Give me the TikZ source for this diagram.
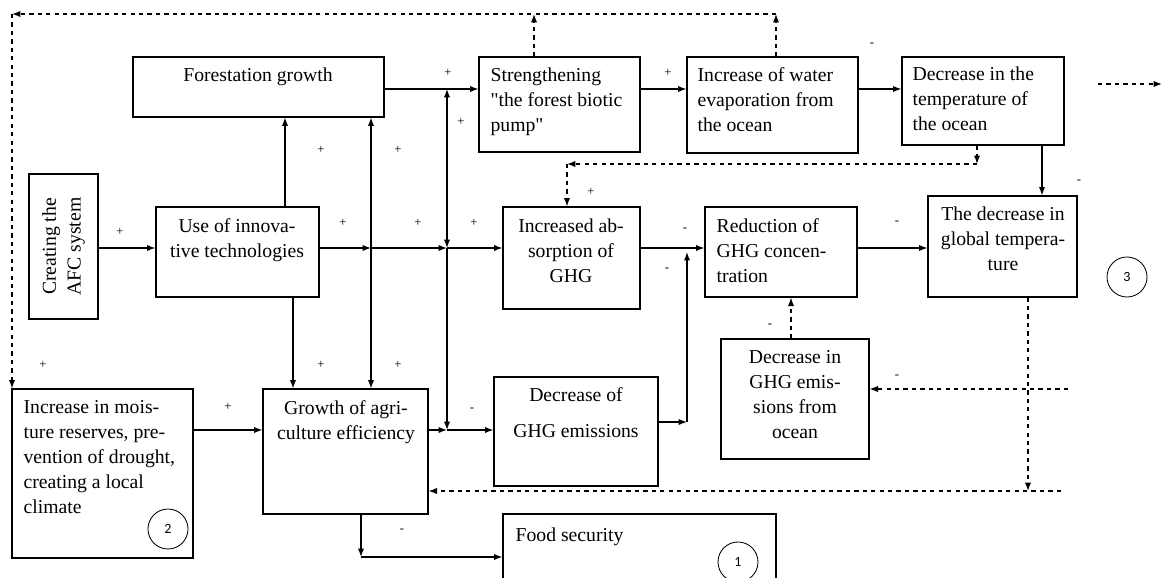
\documentclass[tikz,border=0pt]{standalone}
\usepackage{fontspec}
\setmainfont{Liberation Serif}
\newfontfamily\qfont{Liberation Serif}
\newfontfamily\numfont{Carlito}
\newcommand{\qq}{{\qfont"}}
\usepackage{tikz}
\usetikzlibrary{fit,calc,arrows.meta}
\tikzset{every picture/.style={>={Latex[length=6pt,width=4.5pt]}},
  sign/.style={font=\fontsize{9}{10}\selectfont,inner sep=0pt},
  box/.style={draw,line width=0.8pt,inner sep=0pt,fit={#1}},
  txt/.style={font=\fontsize{14}{17.7}\selectfont,inner sep=0pt},
  num/.style={draw,circle,line width=0.6pt,minimum size=1cm,inner sep=0pt,font=\numfont\fontsize{10}{12}\selectfont},
  fb/.style={dashed,line width=0.9pt}}

\begin{document}
\begin{tikzpicture}[x=0.025cm,y=-0.025cm,line width=0.9pt]
  \useasboundingbox (0,0) rectangle (1164,578);
  % boxes: top row
  \node (13) [box={(133,57) (384,117)}] {};
  \node (23) [box={(479,57) (640,152)}] {};
  \node (33) [box={(687,57) (858,153)}] {};
  \node (43) [box={(902,57) (1064,145)}] {};
  % middle row
  \node (02) [box={(29,174) (98,319)}] {};
  \node (12) [box={(156,207) (319,297)}] {};
  \node (22) [box={(503,207) (640,309)}] {};
  \node (32) [box={(705,207) (857,297)}] {};
  \node (42) [box={(928,196) (1077,297)}] {};
  % bottom rows
  \node (01) [box={(12,389) (193,558)}] {};
  \node (11) [box={(263,389) (428,514)}] {};
  \node (21) [box={(494,377) (658,486)}] {};
  \node (31) [box={(721,339) (869,459)}] {};
  \node (20) [box={(503,514) (776,600)}] {};
  % texts
  \node (13t) [txt,anchor=north] at (258,67) {Forestation growth};
  \node (23t) [txt,anchor=north west,align=left] at (490,67) {Strengthening\\\qq the forest biotic\\pump\qq};
  \node (33t) [txt,anchor=north west,align=left] at (697,67) {Increase of water\\evaporation from\\the ocean};
  \node (43t) [txt,anchor=north west,align=left] at (912,66) {Decrease in the\\temperature of\\the ocean};
  \node (02t) [txt,rotate=90,align=center] at (02) {Creating the\\AFC system};
  \node (12t) [txt,anchor=north,align=center] at (237,218) {Use of innova-\\tive technologies};
  \node (22t) [txt,anchor=north,align=center] at (571,218) {Increased ab-\\sorption of\\GHG};
  \node (32t) [txt,anchor=north west,align=left] at (716,218) {Reduction of\\GHG concen-\\tration};
  \node (42t) [txt,anchor=north,align=center] at (1003,206) {The decrease in\\global tempera-\\ture};
  \node (01t) [txt,anchor=north west,align=left] at (23,400) {Increase in mois-\\ture reserves, pre-\\vention of drought,\\creating a local\\climate};
  \node (11t) [txt,anchor=north,align=center] at (346,400) {Growth of agri-\\culture efficiency};
  \node (21t) [txt,anchor=north,align=center] at (576,387) {Decrease of\\[8pt]GHG emissions};
  \node (31t) [txt,anchor=north,align=center] at (795,350) {Decrease in\\GHG emis-\\sions from\\ocean};
  \node (20t) [txt,anchor=north west] at (515,527) {Food security};
  \node (n1) [num] at (738,562) {1};
  \node (n2) [num] at (168,529) {2};
  \node (n3) [num] at (1127,277) {3};
  % junctions
  \coordinate (j1) at (371,248);
  \coordinate (j2) at (447,248);
  \coordinate (j3) at (447,89);
  \coordinate (j4) at (447,430);
  \coordinate (j5) at (361,557);
  \coordinate (j6) at (687,422);
  \coordinate (j7) at (687,252);
  \coordinate (k0) at (12,14);
  \coordinate (k1) at (776,14);
  \coordinate (k2) at (534,14);
  \coordinate (k3) at (977,164);
  \coordinate (k4) at (567,164);
  \coordinate (k5) at (1028,491);
  \coordinate (k6) at (1061,491);
  \coordinate (k7) at (1068,389);
  \coordinate (k8) at (1098,84);
  \coordinate (k9) at (1162,84);
  % solid links
  \draw [->] (02.east |- j1) -- (12.west |- j1);
  \draw [->] (12.east |- j1) -- (j1);
  \draw [->] (j1) -- (j2);
  \draw [->] (j2) -- (22.west |- j2);
  \draw [->] (j1) -- (j1 |- 13.south);
  \draw [->] (j1) -- (j1 |- 11.north);
  \draw [->] (285,0 |- 12.north) -- (285,0 |- 13.south);
  \draw [->] (293,0 |- 12.south) -- (293,0 |- 11.north);
  \draw [->] (13.east |- j3) -- (23.west |- j3);
  \draw [<->] (j3) -- (j2);
  \draw [->] (j2) -- (j4);
  \draw [->] (11.east |- j4) -- (j4);
  \draw [->] (j4) -- (21.west |- j4);
  \draw [->] (01.east |- j4) -- (11.west |- j4);
  \draw [->] (j5 |- 11.south) -- (j5);
  \draw [->] (j5) -- (20.west |- j5);
  \draw [->] (23.east |- j3) -- (33.west |- j3);
  \draw [->] (33.east |- j3) -- (43.west |- j3);
  \draw [->] (1042,0 |- 43.south) -- (1042,0 |- 42.north);
  \draw [->] (22.east |- j1) -- (32.west |- j1);
  \draw [->] (21.east |- j6) -- (j6);
  \draw [->] (j6) -- (j7);
  \draw [->] (32.east |- j1) -- (42.west |- j1);
  % dashed links
  \draw [->,fb] (k1 |- 33.north) -- (k1);
  \draw [->,fb] (k2 |- 23.north) -- (k2);
  \draw [->,fb] (k1) -- (k0);
  \draw [->,fb] (k0) -- (k0 |- 01.north);
  \draw [->,fb] (k3 |- 43.south) -- (k3);
  \draw [->,fb] (k3) -- (k4);
  \draw [->,fb] (k4) -- (k4 |- 22.north);
  \draw [->,fb] (791,0 |- 31.north) -- (791,0 |- 32.south);
  \draw [->,fb] (k5 |- 42.south) -- (k5);
  \draw [->,fb] (k6) -- (11.east |- k6);
  \draw [->,fb] (k7) -- (31.east |- k7);
  \draw [->,fb] (k8) -- (k9);
  % signs
  \node (p1) [sign] at (448,73) {+};
  \node (p2) [sign] at (461,122) {+};
  \node (p3) [sign] at (321,150) {+};
  \node (p4) [sign] at (398,150) {+};
  \node (p5) [sign] at (120,232) {+};
  \node (p6) [sign] at (343,223) {+};
  \node (p7) [sign] at (418,223) {+};
  \node (p8) [sign] at (474,223) {+};
  \node (p9) [sign] at (591,192) {+};
  \node (p10) [sign] at (43,365) {+};
  \node (p11) [sign] at (321,365) {+};
  \node (p12) [sign] at (398,365) {+};
  \node (p13) [sign] at (228,407) {+};
  \node (p14) [sign] at (668,73) {+};
  \node (m1) [sign] at (872,45) {-};
  \node (m2) [sign] at (1079,182) {-};
  \node (m3) [sign] at (685,230) {-};
  \node (m4) [sign] at (667,270) {-};
  \node (m5) [sign] at (897,223) {-};
  \node (m6) [sign] at (770,326) {-};
  \node (m7) [sign] at (897,377) {-};
  \node (m8) [sign] at (472,410) {-};
  \node (m9) [sign] at (402,531) {-};
\end{tikzpicture}
\end{document}
